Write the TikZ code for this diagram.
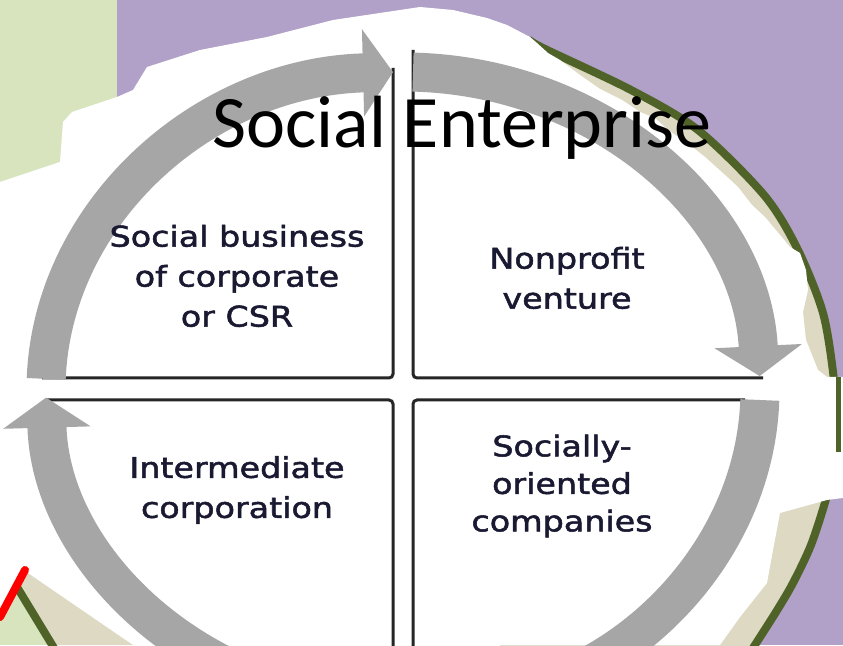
\documentclass[tikz,border=0pt]{standalone}
\usepackage{fontspec}
\usetikzlibrary{arrows.meta}
\newfontfamily\titlefont{Carlito}
\newfontfamily\quadfont[FakeStretch=1.17,FakeBold=1.8]{DejaVu Sans}
\definecolor{bgpurple}{RGB}{177,160,199}
\definecolor{bggreen}{RGB}{215,228,189}
\definecolor{paperbeige}{RGB}{221,217,195}
\definecolor{rimolive}{RGB}{79,98,40}
\definecolor{arrowgray}{RGB}{166,166,166}
\definecolor{quadtext}{RGB}{25,25,50}
\definecolor{quadline}{RGB}{38,38,38}
\begin{document}
\begin{tikzpicture}[x=1pt,y=1pt,
    cyclearrow/.style={draw=arrowgray, line width=39pt, -{Triangle[width=86pt,length=30pt]}},
    quadedge/.style={draw=quadline, line width=3pt, rounded corners=4pt},
    quadlabel/.style={font=\quadfont\fontsize{28.5}{40}\selectfont, text=quadtext, align=center}]
    \useasboundingbox (0,0) rectangle (843,645);
    \clip (0,0) rectangle (843,645);
    % Draw background
    \fill[bgpurple] (0,0) rectangle (843,645);
    \fill[bggreen]  (0,0) rectangle (117,645);
    % Draw rim
    \fill[paperbeige] plot[smooth] coordinates {(528,606) (543,597) (631,555) (698,515) (764,450)
          (797,397) (823,332) (834,265) (836,225) (832,175) (826,146) (811,100) (793,62) (776,33) (753,-3)}
          -- (500,-3) -- (500,606) -- cycle;
    \draw[rimolive, line width=8pt] plot[smooth] coordinates {(528,606) (543,597) (631,555) (698,515) (764,450)
          (797,397) (823,332) (834,265) (836,225) (832,175) (826,146) (811,100) (793,62) (776,33) (753,-3)};
    \fill[paperbeige] (20,65) -- (30,74) -- (133,0) -- (54,0) -- cycle;
    \draw[rimolive, line width=8pt] (17,58) -- (54,-3);
    % Draw paper
    \fill[white] (0,463) -- (60,483) -- (63,523) -- (72,533) -- (117,548) -- (133,555) -- (147,578)
          -- (200,595) -- (267,608) -- (333,625) -- (420,638) -- (453,635) -- (487,627) -- (507,620)
          -- (530,608) -- (537,602) -- (548,592) -- (560,585) -- (580,570) -- (600,556) -- (622,545)
          -- (640,533) -- (655,527) -- (668,515) -- (690,500) -- (705,488) -- (725,470) -- (738,458)
          -- (752,440) -- (765,428) -- (780,410) -- (790,398) -- (800,392) -- (806,375) -- (808,355)
          -- (803,333) -- (806,305) -- (818,275) -- (827,268) -- (843,268) -- (843,147) -- (827,145)
          -- (780,132) -- (773,95) -- (767,62) -- (740,28) -- (720,0) -- (133,0) -- (28,72) -- (0,26) -- cycle;
    \draw[rimolive, line width=5pt] (838,268) -- (838,193);
    \draw[red, line width=8pt, line cap=round] (0,28) -- (25,75);
    % Draw quadrants
    \draw[quadedge] (42,267) -- (393,267) -- (393,577);
    \draw[quadedge] (47,245) -- (393,245) -- (393,-5);
    \draw[quadedge] (413,595) -- (413,267) -- (763,267);
    \draw[quadedge] (745,245) -- (413,245) -- (413,-5);
    % Draw cycle arrows
    \draw[cyclearrow] (46.2,266.1) arc[start angle=178, end angle=91.6, x radius=357, y radius=318];
    \draw[cyclearrow] (413,572.9) arc[start angle=88.4, end angle=2.5, x radius=357, y radius=318];
    \draw[cyclearrow] (759.8,245) arc[start angle=-1.8, end angle=-80, x radius=357, y radius=318];
    \draw[cyclearrow] (341,-58) arc[start angle=260, end angle=181.4, x radius=357, y radius=318];
    % Draw labels
    \node[quadlabel] (csr) at (237,369) {Social business\\of corporate\\or CSR};
    \node[quadlabel] (nonprofit) at (567,367) {Nonprofit\\venture};
    \node[quadlabel] (intermediate) at (237,155) {Intermediate\\corporation};
    \node[quadlabel, font=\quadfont\fontsize{28.5}{37.5}\selectfont] (socially) at (562,159) {Socially-\\oriented\\companies};
    \node[font=\titlefont\fontsize{74}{80}\selectfont, anchor=base] (title) at (462,497) {Social Enterprise};
\end{tikzpicture}
\end{document}
